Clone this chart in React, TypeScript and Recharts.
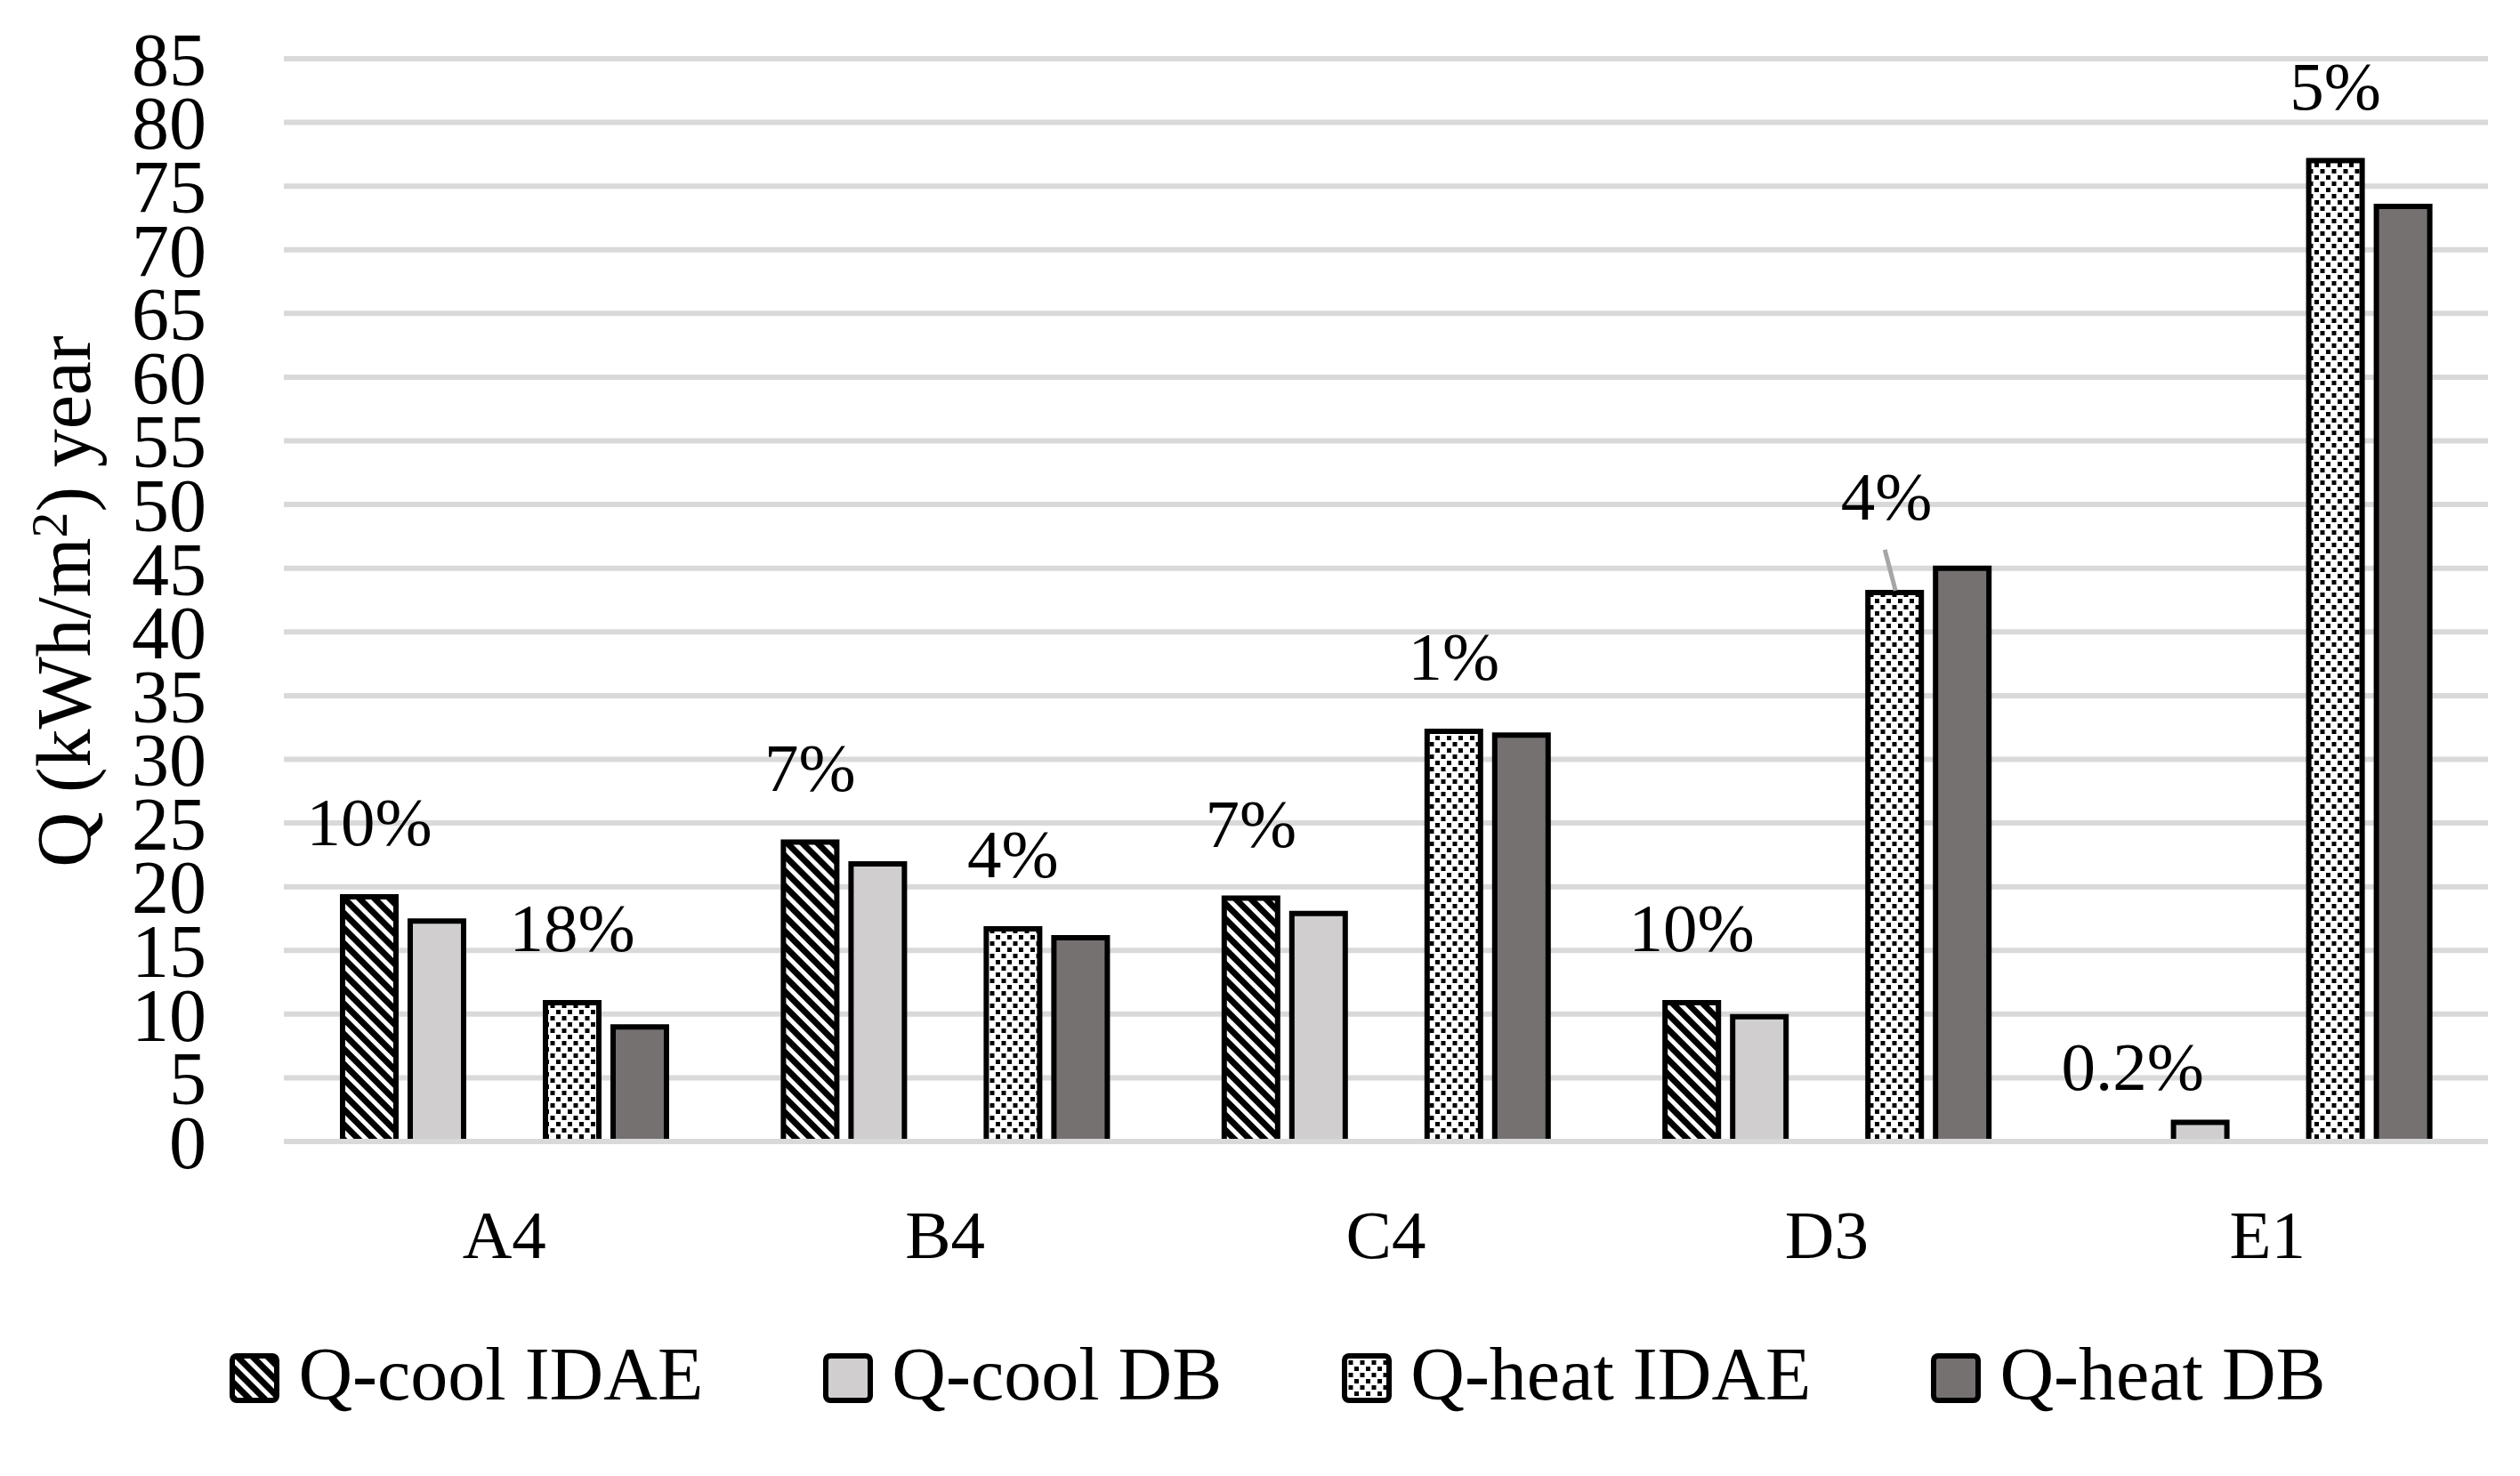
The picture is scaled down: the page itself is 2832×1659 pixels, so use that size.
import { BarChart, Bar, XAxis, YAxis, CartesianGrid, LabelList } from 'recharts'

const regions = ['A4', 'B4', 'C4', 'D3', 'E1']
const coolIdae = [19.2, 23.5, 19.1, 10.9, 0]
const coolDb = [17.3, 21.8, 17.9, 9.8, 1.5]
const heatIdae = [10.9, 16.7, 32.2, 43.1, 77.0]
const heatDb = [9.0, 16.0, 31.9, 45.0, 73.4]
const coolDiff = ['10%', '7%', '7%', '10%', '0.2%']
const heatDiff = ['18%', '4%', '1%', '4%', '5%']
const yTicks = [0, 5, 10, 15, 20, 25, 30, 35, 40, 45, 50, 55, 60, 65, 70, 75, 80, 85]
const seriesNames = ['Q-cool IDAE', 'Q-cool DB', 'Q-heat IDAE', 'Q-heat DB']

const FONT = '"Liberation Serif", "Times New Roman", serif'
const GRID = '#d9d9d9'
const LIGHT = '#d0cece'
const DARK = '#767171'
const LEADER_REGION = 'D3' // the heat label there sits higher with a leader line

const data = regions.map((name, i) => ({
  name,
  coolIdae: coolIdae[i],
  coolDb: coolDb[i],
  heatIdae: heatIdae[i],
  heatDb: heatDb[i],
  coolDiff: coolDiff[i],
  heatDiff: heatDiff[i],
}))

function Patterns({ id }: { id: string }) {
  return (
    <defs>
      <pattern id={`${id}-stripe`} width={12} height={12} patternUnits="userSpaceOnUse" patternTransform="rotate(-45)">
        <rect width={12} height={12} fill="#fff" />
        <rect width={7} height={12} fill="#000" />
      </pattern>
      <pattern id={`${id}-dots`} width={13} height={14} patternUnits="userSpaceOnUse">
        <rect width={13} height={14} fill="#fff" />
        <rect x={1} y={1} width={5} height={5} fill="#000" />
        <rect x={7.5} y={8} width={5} height={5} fill="#000" />
      </pattern>
    </defs>
  )
}

const fills = (id: string) => [`url(#${id}-stripe)`, LIGHT, `url(#${id}-dots)`, DARK]

// bar with outline on three sides, nothing for zero values
function OutlinedBar(props: any) {
  const { x, y, width, height, fill } = props
  if (!height || height <= 0) return null
  return (
    <g>
      <rect x={x} y={y} width={width} height={height} fill={fill} />
      <path d={`M${x},${y + height}V${y}H${x + width}V${y + height}`} fill="none" stroke="#000" strokeWidth={6} />
    </g>
  )
}

function pctLabel(series: 'cool' | 'heat') {
  return (props: any) => {
    const vb = props.viewBox ?? props
    const { x, y, width } = vb
    const cx = x + width / 2
    const leader = series === 'heat' && regions[props.index] === LEADER_REGION
    return (
      <g>
        {leader && (
          <line x1={cx + 1} y1={y - 2} x2={cx - 11} y2={y - 48} stroke="#a6a6a6" strokeWidth={5} />
        )}
        <text
          x={leader ? cx - 9 : cx}
          y={leader ? y - 82 : y - 58}
          textAnchor="middle"
          fontFamily={FONT}
          fontSize={77}
          fill="#000"
        >
          {props.value}
        </text>
      </g>
    )
  }
}

function YTitle() {
  return (
    <text
      x={101}
      y={676}
      transform="rotate(-90, 101, 676)"
      textAnchor="middle"
      fontFamily={FONT}
      fontSize={86}
      fill="#000"
    >
      <tspan>Q (kWh/m</tspan>
      <tspan fontSize={58} dy={-26}>2</tspan>
      <tspan dy={26}>) year</tspan>
    </text>
  )
}

function LegendBox() {
  const f = fills('lg')
  return (
    <div
      style={{
        position: 'absolute', top: 1503, left: 40, width: 2792,
        display: 'flex', justifyContent: 'center', alignItems: 'flex-start', gap: 135,
        fontFamily: FONT, fontSize: 84, lineHeight: '84px', color: '#000',
      }}
    >
      {seriesNames.map((name, i) => (
        <div key={name} style={{ display: 'flex', alignItems: 'flex-start' }}>
          <svg width={56} height={56} style={{ marginTop: 18, marginRight: 21 }}>
            {i === 0 && <Patterns id="lg" />}
            <rect x={3} y={3} width={50} height={50} rx={5} fill={f[i]} stroke="#000" strokeWidth={6} />
          </svg>
          <span style={{ whiteSpace: 'nowrap' }}>{name}</span>
        </div>
      ))}
    </div>
  )
}

export default function App() {
  const f = fills('bar')
  return (
    <div style={{ position: 'relative', width: 2832, height: 1659, background: '#fff' }}>
      <style>{'body{margin:0}'}</style>
      <BarChart
        width={2832}
        height={1659}
        data={data}
        margin={{ top: 66, right: 36, bottom: 256, left: 0 }}
        barSize={60}
        barGap={16}
      >
        <Patterns id="bar" />
        <CartesianGrid vertical={false} stroke={GRID} strokeWidth={6} />
        <YAxis
          domain={[0, 85]}
          ticks={yTicks}
          interval={0}
          width={319}
          axisLine={false}
          tickLine={false}
          tickSize={0}
          tickMargin={87}
          tick={{ fill: '#000', fontSize: 84, fontFamily: FONT }}
          label={<YTitle />}
        />
        <Bar dataKey="coolIdae" fill={f[0]} shape={OutlinedBar} isAnimationActive={false}>
          <LabelList dataKey="coolDiff" content={pctLabel('cool')} />
        </Bar>
        <Bar dataKey="coolDb" fill={f[1]} shape={OutlinedBar} isAnimationActive={false} />
        <Bar dataKey="gap" fill="none" legendType="none" isAnimationActive={false} />
        <Bar dataKey="heatIdae" fill={f[2]} shape={OutlinedBar} isAnimationActive={false}>
          <LabelList dataKey="heatDiff" content={pctLabel('heat')} />
        </Bar>
        <Bar dataKey="heatDb" fill={f[3]} shape={OutlinedBar} isAnimationActive={false} />
        <XAxis
          dataKey="name"
          height={120}
          axisLine={{ stroke: GRID, strokeWidth: 6 }}
          tickLine={false}
          tickSize={0}
          tickMargin={76}
          tick={{ fill: '#000', fontSize: 77, fontFamily: FONT }}
        />
      </BarChart>
      <LegendBox />
    </div>
  )
}
